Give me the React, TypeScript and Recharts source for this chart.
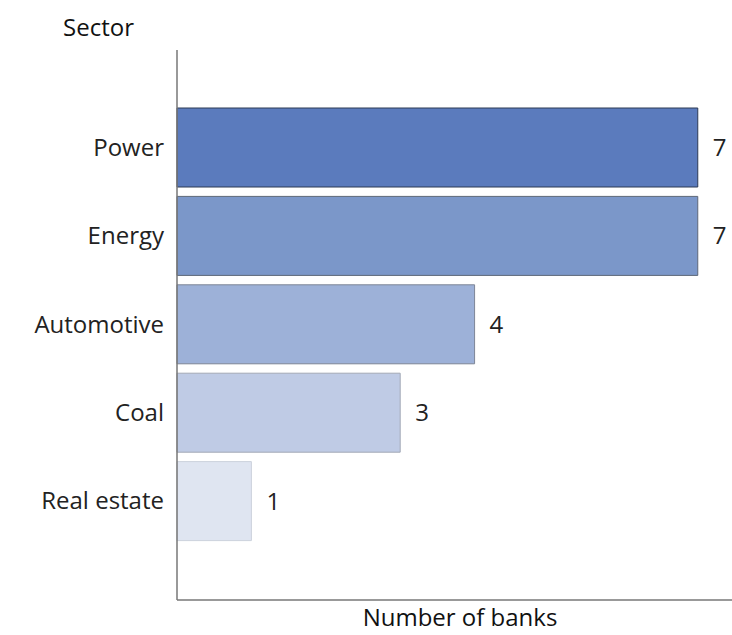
import { BarChart, Bar, XAxis, YAxis, Cell, LabelList } from 'recharts'

const sectors = ['Power', 'Energy', 'Automotive', 'Coal', 'Real estate']
const banks = [7, 7, 4, 3, 1]
const fills = ['#5b7bbd', '#7b97c9', '#9db1d8', '#bfcbe5', '#dfe5f1']
const strokes = ['#2c3a55', '#5d6778', '#7d8596', '#a3a9b5', '#ccd2dc']

const data = sectors.map((sector, i) => ({ sector, banks: banks[i] }))

const font = '"Open Sans", "Noto Sans", sans-serif'

export default function App() {
  return (
    <div style={{ position: 'absolute', left: 0, top: 0, width: 732, height: 635, background: '#fff', fontFamily: font }}>
      <div style={{ position: 'absolute', left: 63, top: 10, fontSize: 24, fontWeight: 500, color: '#111' }}>Sector</div>
      <div style={{ position: 'absolute', left: 0, width: 920, top: 600, fontSize: 24, fontWeight: 500, color: '#111', textAlign: 'center' }}>
        Number of banks
      </div>
      <BarChart
        width={732}
        height={635}
        data={data}
        layout="vertical"
        margin={{ top: 50, right: 0, bottom: 34, left: 0 }}
      >
        <XAxis
          type="number"
          domain={[0, 7.46]}
          tick={false}
          tickLine={false}
          height={1}
          axisLine={{ stroke: '#777', strokeWidth: 1.5 }}
        />
        <YAxis
          type="category"
          dataKey="sector"
          width={177}
          tickLine={false}
          axisLine={{ stroke: '#777', strokeWidth: 1.5 }}
          padding={{ top: 53, bottom: 55 }}
          tickMargin={7}
          tick={{ fill: '#222', fontSize: 24, fontFamily: font }}
        />
        <Bar dataKey="banks" barSize={79} isAnimationActive={false}>
          {data.map((d, i) => (
            <Cell key={d.sector} fill={fills[i]} stroke={strokes[i]} strokeWidth={1} />
          ))}
          <LabelList dataKey="banks" position="right" offset={15} fill="#222" fontSize={24} fontFamily={font} />
        </Bar>
      </BarChart>
    </div>
  )
}
